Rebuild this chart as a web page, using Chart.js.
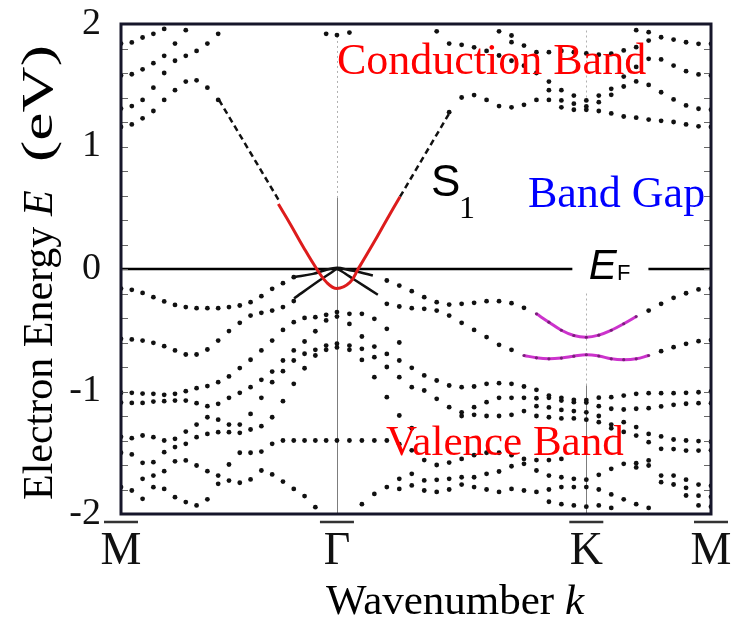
<!DOCTYPE html>
<html>
<head>
<meta charset="utf-8">
<script src="https://cdn.jsdelivr.net/npm/chart.js@4.4.0/dist/chart.umd.min.js"></script>
<style>
  html, body { margin: 0; padding: 0; background: #fff; }
  #wrap { width: 733px; height: 625px; }
</style>
</head>
<body>
<div id="wrap"><canvas id="bands" width="733" height="625"></canvas></div>
<script>
const _ = null;

// path through the surface Brillouin zone: M - Gamma - K - M
const kPoints = [0, 0.866, 1.866, 2.366];
const kLabels = ["M", "Γ", "K", "M"];
const kSteps = [20, 20, 10];
const energyTicks = [-2, -1, 0, 1, 2];

// pad a band with nulls so that it starts at sample `start`
function from(start, values) {
  return Array(start).fill(null).concat(values);
}

// ---- conduction bands (eV), one value per k sample ----
const cb1 = [1.84, 1.85, 1.89, 1.92, 1.96];
const cb2 = [1.58, 1.59, 1.63, 1.68, 1.74, 1.84, 1.95];
const cb3 = [1.31, 1.33, 1.38, 1.48, 1.60, 1.70, 1.74, 1.78, 1.84, 1.92];
const cbTop = from(19, [1.92, 1.91, 1.93, _, _, _, _, _, _, 1.94, _, _, _, _, 1.94, 1.906,
  _, _, _, _, _, _, _, _, _, 1.95, 1.933]);
const s1Dots = [
  1.16, 1.18, 1.23, 1.29, 1.38, 1.46, 1.53, 1.54, 1.48, 1.38,
  _, _, _, _, _, _, _, _, _, _,
  _, _, _, _, _, _, _, _, _, 1.28,
  1.40, 1.42, 1.38, 1.33, 1.32, 1.34, 1.38, 1.38, 1.32, 1.30,
  1.30, 1.29, 1.27, 1.245, 1.235, 1.22, 1.21, 1.20, 1.18, 1.165,
  1.16];
const gk2 = from(34, [1.852, 1.824, 1.77, 1.77, 1.78, 1.77, 1.76, 1.75, 1.757, 1.784,
  1.811, 1.865, 1.892, 1.873, 1.851, 1.838, 1.838]);
const gk3 = from(29, [1.84, 1.83, 1.81, 1.78, 1.743, 1.70, 1.66, 1.60, 1.53, 1.46,
  1.416, 1.376, 1.416, 1.471, 1.49, 1.531, 1.503, 1.443, 1.384, 1.335, 1.308, 1.30]);
const gk4 = from(37, [1.46, 1.376, 1.35, 1.327, 1.362, 1.422]);
const km5 = from(43, [1.571, 1.65, 1.716, 1.711, 1.661, 1.615, 1.588, 1.58]);

// ---- valence bands (eV) ----
const vb1 = [
  -0.16, -0.17, -0.195, -0.23, -0.265, -0.293, -0.311, -0.32, -0.32, -0.32,
  -0.311, -0.298, -0.271, -0.222, -0.162, -0.116, -0.067, _, _, _,
  _, _, _, _, -0.094, -0.135, -0.181, -0.23, -0.271, -0.29,
  -0.284, -0.276, -0.263, -0.263, -0.279, -0.317, _, _, _, _,
  _, _, _, _, _, -0.339, -0.284, -0.235, -0.198, -0.167,
  -0.16];
const vb2 = [
  -0.57, -0.575, -0.584, -0.603, -0.63, -0.665, -0.698, -0.698, -0.657, -0.584,
  -0.507, -0.439, -0.38, -0.358, -0.339, -0.311, -0.262, _, _, _,
  _, _, _, _, -0.284, -0.306, -0.32, -0.325, -0.339, -0.38,
  -0.439, -0.497, -0.556, -0.619, -0.66, _, _, _, _, _,
  _, _, _, _, _, _, -0.671, -0.638, -0.611, -0.589,
  -0.58];
const vb3 = [
  -1.01, -1.011, -1.017, -1.019, -1.027, -1.019, -0.997, -0.973, -0.956, -0.924,
  -0.877, -0.809, -0.741, -0.665, -0.584, -0.497, -0.434, -0.399, -0.393, -0.374,
  -0.352, -0.366, -0.366, -0.407, -0.488, -0.6];
const vb4 = [
  -1.09, -1.093, -1.093, -1.082, -1.079, -1.074, -1.074, -1.095, -1.12, -1.101,
  -1.052, -1.011, -0.965, -0.905, -0.837, -0.747, -0.665, -0.592, -0.508, -0.42,
  -0.388, -0.448, -0.551, -0.633, -0.693, -0.747, -0.807, -0.869, -0.91, -0.951,
  -0.965, -0.959, -0.937, -0.932, -0.937, -0.959, -0.986, -1.033, -1.052, -1.068,
  -1.07, -1.05, -1.046, -1.033, -1.019, -1.014, -1.014, -1.014, -1.011, -1.006,
  -1.0];
const vb5 = [
  -1.37, -1.381, -1.359, -1.373, -1.4, -1.386, -1.327, -1.27, -1.21, -1.23,
  -1.27, -1.27, -1.183, -1.052, -0.924, -0.834, -0.747, -0.692, -0.66, -0.625,
  -0.61, -0.625, -0.652, -0.72, -0.8, -0.883, -0.965, -0.992, -1.06, -1.128,
  -1.17, -1.128, -1.087, -1.052, -1.052, -1.052, -1.055, -1.052, -1.074, -1.087,
  -1.09, -1.12, -1.141, -1.147, -1.141, -1.136, -1.122, -1.109, -1.1, -1.095,
  -1.095];
const vb6 = [
  -1.5, -1.514, -1.582, -1.577, -1.495, -1.454, -1.427, -1.373, -1.346, -1.332,
  -1.332, -1.337, -1.31, -1.283, -1.21, -1.079, -0.937, -0.81, -0.706, -0.66,
  -0.64, -0.66, -0.742, -0.883, -1.046, -1.196, -1.3];
const vb7 = [
  _, _, -1.713, -1.686, -1.65, -1.57, -1.563, -1.604, -1.65, -1.686,
  -1.596, -1.5, -1.5, -1.49, -1.427, -1.4, -1.4, -1.4, -1.4, -1.4,
  -1.4, -1.4, -1.4, -1.4, -1.4, -1.43, -1.48];
const vb8 = [
  -1.78, -1.808, -1.876, -1.781, -1.795, -1.863, -1.903, -1.93, -1.88, -1.754,
  -1.727, -1.745, -1.718, -1.645, -1.677, -1.735, -1.795, -1.854, -1.944];
const vb9 = from(25, [-1.713, -1.672, -1.726, -1.721, -1.713, -1.70, -1.70, -1.672, -1.653, -1.61,
  -1.59, -1.645, -1.686, -1.70, -1.713, -1.72, -1.68, -1.631, -1.59, -1.585, -1.563]);
const vb10 = from(22, [-1.92, -1.836, -1.78, -1.795, -1.767, -1.808, -1.82, -1.8, -1.76, -1.78,
  -1.8, -1.82, -1.795, -1.808, -1.82, -1.8, -1.78, -1.78, -1.78, -1.8, -1.84, -1.88, -1.92, -1.95]);
const vbMid = from(27, [-1.56, -1.6, -1.58, -1.55, -1.52, -1.5, -1.5, -1.52, -1.55, -1.56, -1.56, -1.55]);
const kc3 = from(30, [-1.2, -1.19, -1.2, -1.2, -1.19, -1.16, -1.12, -1.13, -1.15, -1.16,
  -1.17, -1.2, -1.27, -1.25, -1.29, -1.346, -1.367, -1.392, -1.4, -1.405, -1.41]);
const kc4 = from(36, [-1.2, -1.21, -1.22, -1.22, -1.23, -1.25, -1.3, -1.33, -1.36, -1.414,
  -1.468, -1.47, -1.482, -1.482, -1.48]);
const kLow1 = from(37, [-1.9, -1.92, -1.93, -1.94, -1.93, -1.95]);
const kLow2 = from(44, [-1.62, -1.604, -1.686, -1.686, -1.72, -1.76, -1.77]);
const kLow3 = from(46, [-1.74, -1.759, -1.786, -1.85, -1.86]);
const kLow4 = from(48, [-1.849, -1.93, -1.94]);

// highlighted bands around K
const purpleUpper = from(36, [-0.366, -0.434, -0.50, -0.543, -0.557, -0.54, -0.50, -0.447, -0.388]);
const purpleLower = from(35, [-0.706, -0.725, -0.733, -0.727, -0.712, -0.70, -0.71, -0.733, -0.74, -0.733, -0.706]);

// S1 surface state near Gamma (k, E)
const s1RedK = [0.631, 0.678, 0.731, 0.785, 0.825, 0.866, 0.918, 0.951, 1.012, 1.065, 1.119];
const s1RedE = [0.53, 0.37, 0.18, 0.0, -0.11, -0.16, -0.11, 0.0, 0.21, 0.40, 0.59];
const s1DashK = [0.393, 0.636, 0.8, 1.119, 1.319];
const s1DashE = [1.38, 0.55, _, 0.59, 1.28];

// the two bands touching E_F at Gamma
const peakK = [0.694, 0.798, 0.850, 0.866, 0.886, 0.938, 1.03];
const peakE = [-0.24, -0.09, -0.02, 0.0, -0.02, -0.09, -0.21];
const flatK = [0.694, 0.770, 0.818, 0.866, 0.918, 0.958, 1.010];
const flatE = [-0.067, -0.04, -0.01, 0.01, -0.01, -0.026, -0.053];

// k sample positions along the path
const kGrid = [];
kSteps.forEach((n, s) => {
  for (let j = 0; j < n; j++) {
    kGrid.push(kPoints[s] + (kPoints[s + 1] - kPoints[s]) * j / n);
  }
});
kGrid.push(kPoints[kPoints.length - 1]);

function onGrid(band) {
  return band.map((e, i) => (e == null ? null : { x: kGrid[i], y: e })).filter(Boolean);
}
function pairs(ks, es) {
  return ks.map((k, i) => ({ x: k, y: es[i] }));
}

const dotBands = [cb1, cb2, cb3, cbTop, s1Dots, gk2, gk3, gk4, km5,
  vb1, vb2, vb3, vb4, vb5, vb6, vb7, vb8, vb9, vb10, vbMid, kc3, kc4,
  kLow1, kLow2, kLow3, kLow4];

const datasets = [];
datasets.push({
  data: [{ x: kPoints[0], y: 0 }, { x: kPoints[3], y: 0 }],
  showLine: true, borderColor: "#000", borderWidth: 2.5, pointRadius: 0, order: 10
});
dotBands.forEach(b => datasets.push({
  data: onGrid(b), showLine: false, pointRadius: 2.4,
  pointBackgroundColor: "#111", pointBorderWidth: 0, order: 5
}));
datasets.push({
  data: pairs(s1DashK, s1DashE), showLine: true, spanGaps: false,
  borderColor: "#111", borderWidth: 2.5, borderDash: [6, 4], pointRadius: 0, order: 4
});
datasets.push({
  data: pairs(peakK, peakE), showLine: true, borderColor: "#111", borderWidth: 2.5,
  tension: 0.3, pointRadius: 0, order: 3
});
datasets.push({
  data: pairs(flatK, flatE), showLine: true, borderColor: "#111", borderWidth: 2.5,
  tension: 0.4, pointRadius: 0, order: 3
});
datasets.push({
  data: pairs(s1RedK, s1RedE), showLine: true, borderColor: "#dd1c1c", borderWidth: 3,
  tension: 0.4, pointRadius: 0, order: 1
});
[purpleUpper, purpleLower].forEach(b => datasets.push({
  data: onGrid(b), showLine: true, borderColor: "#cc33cc", borderWidth: 3,
  tension: 0.4, pointRadius: 1.6, pointBackgroundColor: "#7a1f7a", pointBorderWidth: 0, order: 1
}));

const serif = '"Liberation Serif", "Times New Roman", serif';
const sans = '"Liberation Sans", Arial, sans-serif';

// draws mixed upright / italic runs starting at (x0, y0)
function runs(ctx, parts, size, x0, y0) {
  let cx = x0;
  parts.forEach(([text, italic]) => {
    ctx.font = (italic ? "italic " : "") + size + "px " + serif;
    ctx.fillText(text, cx, y0);
    cx += ctx.measureText(text).width;
  });
}
function runsWidth(ctx, parts, size) {
  return parts.reduce((w, [text, italic]) => {
    ctx.font = (italic ? "italic " : "") + size + "px " + serif;
    return w + ctx.measureText(text).width;
  }, 0);
}

const decor = {
  id: "decor",
  beforeDatasetsDraw(chart) {
    const { ctx, scales: { x, y } } = chart;
    const vline = (k, e0, e1, dash, color) => {
      ctx.beginPath();
      ctx.setLineDash(dash);
      ctx.strokeStyle = color;
      ctx.moveTo(Math.round(x.getPixelForValue(k)) + 0.5, y.getPixelForValue(e0));
      ctx.lineTo(Math.round(x.getPixelForValue(k)) + 0.5, y.getPixelForValue(e1));
      ctx.stroke();
    };
    ctx.save();
    ctx.lineWidth = 1;
    vline(kPoints[1], -2, 0.58, [], "#7d7d7d");
    vline(kPoints[1], 0.58, 1.9, [2, 3], "#b0b0b0");
    vline(kPoints[2], 1.4, 1.95, [2, 3], "#b0b0b0");
    vline(kPoints[2], -0.2, -0.95, [2, 3], "#b0b0b0");
    vline(kPoints[2], -0.95, -2, [], "#7d7d7d");
    ctx.restore();
  },
  afterDatasetsDraw(chart) {
    const { ctx, chartArea: a, scales: { x, y } } = chart;
    const px = k => x.getPixelForValue(k);
    const py = e => y.getPixelForValue(e);
    ctx.save();

    // Fermi level label sits in a gap of the E = 0 line
    ctx.fillStyle = "#fff";
    ctx.fillRect(px(1.81), py(0.12), px(2.115) - px(1.81), py(-0.12) - py(0.12));
    ctx.fillStyle = "#000";
    ctx.textBaseline = "alphabetic";
    ctx.font = "italic 42px " + sans;
    ctx.fillText("E", px(1.876), py(-0.08));
    ctx.font = "22px " + sans;
    ctx.fillText("F", px(1.989), py(-0.09));

    // S1 label
    ctx.font = "44px " + sans;
    ctx.fillText("S", px(1.243), py(0.6));
    ctx.font = "32px " + serif;
    ctx.fillText("1", px(1.355), py(0.415));

    // region labels
    ctx.font = "44px " + serif;
    ctx.fillStyle = "#ff0000";
    ctx.fillText("Conduction Band", px(0.866), py(1.59));
    ctx.fillStyle = "#0000ff";
    ctx.fillText("Band Gap", px(1.632), py(0.51));
    ctx.font = "43px " + serif;
    ctx.fillStyle = "#ff0000";
    ctx.fillText("Valence Band", px(1.063), py(-1.52));

    // minor energy ticks on both frame edges
    ctx.strokeStyle = "#666";
    ctx.lineWidth = 1;
    for (let e = -1.8; e < 1.9; e += 0.2) {
      const yy = Math.round(py(e)) + 0.5;
      ctx.beginPath();
      ctx.moveTo(a.left, yy); ctx.lineTo(a.left + 7, yy);
      ctx.moveTo(a.right, yy); ctx.lineTo(a.right - 7, yy);
      ctx.stroke();
    }

    // frame
    ctx.strokeStyle = "#16162a";
    ctx.lineWidth = 3;
    ctx.strokeRect(a.left, a.top, a.right - a.left, a.bottom - a.top);
    ctx.restore();
  },
  afterDraw(chart) {
    const { ctx, chartArea: a, scales: { x } } = chart;
    ctx.save();
    // bars over the high-symmetry point labels
    ctx.strokeStyle = "#333";
    ctx.lineWidth = 2.5;
    kPoints.forEach(k => {
      const cx = x.getPixelForValue(k);
      ctx.beginPath();
      ctx.moveTo(cx - 17, a.bottom + 8);
      ctx.lineTo(cx + 17, a.bottom + 8);
      ctx.stroke();
    });

    ctx.fillStyle = "#000";
    ctx.textBaseline = "alphabetic";
    // x axis title
    const xt = [["Wavenumber ", false], ["k", true]];
    const xw = runsWidth(ctx, xt, 43);
    runs(ctx, xt, 43, 455 - xw / 2, 614);

    // y axis title, read bottom to top; the unit is set a little wider
    ctx.translate(52, 500);
    ctx.rotate(-Math.PI / 2);
    ctx.font = "42px " + serif;
    ctx.fillText("Electron Energy", 0, 0);
    ctx.font = "italic 42px " + serif;
    ctx.fillText("E", 284, 0);
    ctx.font = "44px " + serif;
    ctx.translate(338, 0);
    ctx.scale(1.45, 1);
    ctx.fillText("(eV)", 0, 0);
    ctx.restore();
  }
};

new Chart(document.getElementById("bands"), {
  type: "scatter",
  data: { datasets },
  options: {
    responsive: false,
    devicePixelRatio: 1,
    animation: false,
    layout: { padding: { top: 24, right: 22, left: 0, bottom: 0 } },
    plugins: { legend: { display: false }, tooltip: { enabled: false } },
    scales: {
      x: {
        type: "linear",
        min: kPoints[0],
        max: kPoints[3],
        grid: { display: false, drawTicks: false },
        border: { display: false },
        afterBuildTicks: axis => { axis.ticks = kPoints.map(v => ({ value: v })); },
        afterFit: axis => {
          axis.height = 111;
          axis.paddingLeft = 0;
          axis.paddingRight = 0;
        },
        ticks: {
          padding: 10,
          color: "#111",
          font: { family: serif, size: 46 },
          callback: (v, i) => kLabels[i]
        }
      },
      y: {
        min: -2,
        max: 2,
        grid: { display: false, drawTicks: false },
        border: { display: false },
        afterBuildTicks: axis => { axis.ticks = energyTicks.map(v => ({ value: v })); },
        afterFit: axis => {
          axis.width = 121;
          axis.paddingTop = 0;
          axis.paddingBottom = 0;
        },
        ticks: {
          padding: 20,
          color: "#111",
          font: { family: serif, size: 38, lineHeight: 0.8 }
        }
      }
    }
  },
  plugins: [decor]
});
</script>
</body>
</html>
